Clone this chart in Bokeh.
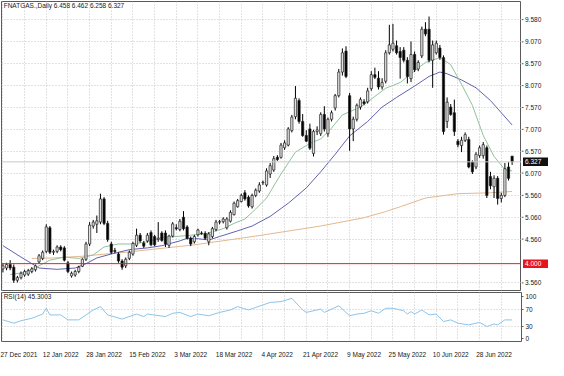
from bokeh.plotting import figure
from bokeh.layouts import column, row
from bokeh.models import ColumnDataSource, FixedTicker, Range1d, Label, Span
from bokeh.embed import file_html
from bokeh.resources import INLINE
from bokeh.core.properties import value

# ---------------- data ----------------
opens = [3.88, 3.90, 3.98, 3.92, 3.62, 3.68, 3.74, 3.76, 3.82, 3.86,
         4.04, 4.12, 4.28, 4.82, 4.26, 4.28, 4.38, 4.36, 4.02, 3.72,
         3.74, 3.82, 3.94, 4.10, 4.45, 4.86, 4.90, 4.95, 5.48, 4.92,
         4.45, 4.30, 4.22, 4.06, 3.95, 4.12, 4.22, 4.42, 4.65, 4.47,
         4.52, 4.71, 4.62, 4.55, 4.70, 4.70, 4.42, 4.63, 4.82, 4.78,
         5.06, 4.84, 4.58, 4.50, 4.66, 4.70, 4.69, 4.50, 4.62, 4.78,
         4.95, 4.96, 4.82, 4.97, 5.12, 5.30, 5.42, 5.62, 5.52, 5.30,
         5.56, 5.66, 5.85, 5.80, 6.05, 6.14, 6.43, 6.43, 6.65, 6.71,
         7.04, 7.36, 7.73, 7.25, 6.93, 7.08, 6.52, 7.02, 6.97, 7.41,
         6.97, 7.30, 7.56, 7.84, 8.38, 8.86, 7.84, 7.08, 7.30, 7.58,
         7.70, 7.70, 8.00, 8.32, 8.24, 8.04, 8.17, 8.82, 8.90, 8.98,
         8.85, 8.88, 8.65, 8.23, 8.78, 8.45, 8.75, 9.36, 9.36, 8.65,
         8.82, 8.93, 8.71, 7.25, 7.58, 7.45, 6.80, 6.70, 6.82, 6.84,
         6.32, 6.21, 6.47, 6.47, 6.65, 5.99, 5.76, 5.95, 5.49, 5.56,
         6.21, 6.458]
highs = [4.00, 4.02, 4.08, 3.98, 3.72, 3.82, 3.86, 3.88, 3.92, 3.98,
         4.22, 4.30, 4.90, 4.86, 4.32, 4.42, 4.42, 4.40, 4.06, 3.82,
         3.86, 3.95, 4.12, 4.50, 4.95, 5.00, 5.10, 5.60, 5.52, 4.98,
         4.50, 4.36, 4.26, 4.10, 4.14, 4.30, 4.50, 4.80, 4.70, 4.52,
         4.70, 4.76, 4.66, 4.95, 4.74, 4.76, 4.66, 4.95, 4.90, 5.02,
         5.20, 4.88, 4.62, 4.66, 4.80, 4.74, 4.74, 4.72, 4.84, 5.00,
         5.00, 5.06, 5.06, 5.22, 5.42, 5.48, 5.60, 5.68, 5.56, 5.60,
         5.72, 5.86, 5.90, 6.18, 6.30, 6.46, 6.48, 6.76, 6.82, 7.12,
         7.40, 8.06, 7.78, 7.42, 7.05, 7.20, 7.06, 7.14, 7.46, 7.60,
         7.34, 7.50, 7.88, 8.45, 8.92, 8.97, 7.90, 7.36, 7.66, 7.80,
         7.76, 8.02, 8.40, 8.48, 8.40, 8.24, 8.88, 9.46, 9.48, 9.10,
         8.95, 8.95, 8.72, 9.08, 8.85, 8.65, 9.42, 9.52, 9.65, 9.10,
         9.10, 9.00, 8.76, 7.80, 7.65, 7.75, 6.85, 6.90, 7.00, 6.90,
         6.36, 6.55, 6.70, 6.78, 6.70, 6.10, 6.02, 6.00, 5.62, 6.30,
         6.32, 6.462]
lows = [3.80, 3.85, 3.85, 3.56, 3.57, 3.64, 3.70, 3.72, 3.78, 3.82,
        4.00, 4.08, 4.24, 4.22, 4.20, 4.24, 4.28, 4.05, 3.78, 3.68,
        3.70, 3.78, 3.92, 4.06, 4.40, 4.80, 4.70, 4.90, 4.88, 4.50,
        4.22, 4.24, 4.02, 3.86, 3.90, 4.08, 4.18, 4.38, 4.48, 4.36,
        4.48, 4.40, 4.40, 4.50, 4.50, 4.38, 4.36, 4.60, 4.76, 4.74,
        4.76, 4.55, 4.40, 4.46, 4.62, 4.66, 4.55, 4.42, 4.58, 4.74,
        4.90, 4.92, 4.78, 4.94, 5.10, 5.28, 5.40, 5.44, 5.28, 5.26,
        5.52, 5.62, 5.80, 5.76, 5.96, 6.10, 6.35, 6.40, 6.60, 6.68,
        7.00, 7.30, 7.20, 6.90, 6.78, 6.60, 6.45, 6.94, 6.92, 7.02,
        6.90, 7.25, 7.50, 7.80, 8.30, 8.24, 6.58, 6.80, 7.25, 7.52,
        7.62, 7.66, 7.95, 8.22, 7.98, 7.98, 8.12, 8.78, 8.85, 8.78,
        8.23, 8.60, 8.12, 8.15, 8.38, 8.40, 8.70, 9.20, 8.60, 8.02,
        8.78, 8.66, 6.95, 7.10, 7.38, 6.92, 6.66, 6.55, 6.78, 6.18,
        6.05, 6.16, 6.42, 6.40, 5.50, 5.70, 5.50, 5.35, 5.40, 5.52,
        5.90, 6.258]
closes = [3.95, 3.98, 3.90, 3.62, 3.68, 3.78, 3.82, 3.84, 3.88, 3.95,
          4.18, 4.26, 4.84, 4.26, 4.28, 4.38, 4.32, 4.08, 3.82, 3.78,
          3.82, 3.92, 4.10, 4.45, 4.88, 4.95, 4.98, 5.48, 4.92, 4.55,
          4.26, 4.28, 4.06, 3.92, 4.10, 4.26, 4.46, 4.65, 4.52, 4.40,
          4.65, 4.43, 4.43, 4.58, 4.53, 4.45, 4.63, 4.91, 4.80, 4.97,
          4.80, 4.58, 4.45, 4.62, 4.77, 4.69, 4.58, 4.68, 4.80, 4.95,
          4.96, 5.02, 5.02, 5.17, 5.38, 5.44, 5.56, 5.48, 5.32, 5.56,
          5.68, 5.80, 5.86, 6.12, 6.24, 6.40, 6.38, 6.71, 6.76, 7.08,
          7.35, 7.78, 7.25, 6.93, 6.80, 6.64, 7.02, 7.06, 7.41, 7.08,
          7.30, 7.45, 7.84, 8.38, 8.82, 8.28, 7.08, 7.30, 7.62, 7.75,
          7.66, 7.95, 8.32, 8.26, 8.04, 8.14, 8.82, 9.00, 9.04, 8.82,
          8.71, 8.65, 8.28, 8.78, 8.43, 8.60, 9.36, 9.25, 8.65, 9.00,
          9.04, 8.71, 7.02, 7.69, 7.41, 7.02, 6.72, 6.82, 6.95, 6.21,
          6.10, 6.50, 6.65, 6.72, 5.56, 5.78, 5.95, 5.49, 5.56, 6.17,
          5.95, 6.327]

# moving averages (bar index, price)
ma_green_idx = [2, 6, 10, 13, 17, 21, 25, 28, 32, 36, 40, 44, 48, 52, 56, 61, 64, 67, 70, 73,
                77, 81, 85, 88, 91, 94, 99, 102, 106, 110, 113, 117, 121, 124, 127, 130, 133,
                136, 139, 141]
ma_green_val = [3.75, 3.80, 3.95, 4.08, 4.15, 4.12, 4.20, 4.38, 4.45, 4.45, 4.50, 4.60, 4.62,
                4.65, 4.68, 4.80, 4.92, 5.02, 5.25, 5.50, 6.05, 6.55, 6.75, 6.85, 7.10, 7.40,
                7.58, 7.76, 8.01, 8.14, 8.34, 8.60, 8.71, 8.55, 8.10, 7.62, 6.93, 6.45, 6.15, 6.12]
ma_blue_idx = [0, 5, 10, 15, 20, 23, 26, 30, 35, 40, 44, 49, 51, 54, 57, 60, 65, 69, 74, 79,
               84, 88, 92, 96, 101, 105, 109, 114, 118, 121, 123, 127, 131, 135, 138, 141]
ma_blue_val = [4.41, 4.15, 3.90, 3.87, 3.90, 4.00, 4.13, 4.22, 4.32, 4.36, 4.41, 4.52, 4.58,
               4.57, 4.54, 4.62, 4.75, 4.86, 5.08, 5.38, 5.73, 6.10, 6.50, 6.92, 7.25, 7.58,
               7.80, 8.06, 8.28, 8.38, 8.34, 8.20, 8.02, 7.73, 7.45, 7.17]
ma_tan_idx = [8, 14, 22, 35, 53, 70, 88, 100, 106, 110, 117, 126, 135, 141]
ma_tan_val = [4.12, 4.13, 4.17, 4.27, 4.43, 4.63, 4.86, 5.05, 5.19, 5.30, 5.50, 5.60, 5.62, 5.65]

# RSI(14)
rsi_idx = [0, 3, 5, 8, 11, 12, 13, 16, 18, 21, 23, 25, 27, 29, 33, 37, 39, 40, 45, 47, 49,
           52, 54, 57, 60, 63, 65, 68, 70, 74, 77, 80, 83, 84, 88, 89, 93, 96, 98, 100, 102,
           104, 106, 108, 111, 112, 113, 114, 116, 118, 120, 122, 124, 126, 129, 132, 134,
           136, 137, 139, 141]
rsi_val = [45.4, 37.5, 43.4, 49.3, 59.2, 73.0, 57.2, 57.2, 45.4, 45.4, 57.2, 69.0, 77.0, 57.2,
           47.3, 59.2, 53.3, 59.2, 53.3, 61.1, 63.1, 53.3, 59.2, 55.2, 63.1, 69.0, 77.0, 69.0,
           75.0, 86.8, 88.8, 96.6, 69.0, 63.1, 71.0, 63.1, 78.9, 55.2, 59.2, 61.1, 67.1, 61.1,
           73.0, 73.0, 67.1, 59.2, 65.1, 59.2, 69.0, 57.2, 59.2, 41.4, 45.4, 37.5, 33.5, 39.4,
           29.6, 35.5, 33.5, 45.4, 45.3]

date_idx = [0, 12, 24, 36, 48, 60, 72, 84, 96, 108, 120, 132]
date_labels = ["27 Dec 2021", "12 Jan 2022", "28 Jan 2022", "15 Feb 2022", "3 Mar 2022",
               "18 Mar 2022", "4 Apr 2022", "21 Apr 2022", "9 May 2022", "25 May 2022",
               "10 Jun 2022", "28 Jun 2022"]
price_ticks = [3.56, 4.56, 5.06, 5.56, 6.07, 6.57, 7.07, 7.57, 8.07, 8.57, 9.07, 9.58]
rsi_ticks = [0, 30, 70, 100]
level_line = 4.000
last_price = 6.327
title_text = "FNATGAS.,Daily  6.458 6.462 6.258 6.327"
rsi_text = "RSI(14) 45.3003"

# ---------------- styling ----------------
FONT = "Liberation Sans"
FS = "6.5px"
GRID = "#c4c4c4"
FRAME = "#5a5a5a"
TXT = "#202020"
X0, X1 = -0.4, 143.6
Y0, Y1 = 3.386, 9.993
MAIN_H = 291
AX_W = 27

n = len(opens)
up = [c >= o for o, c in zip(opens, closes)]
src = ColumnDataSource(dict(
    x=list(range(n)), h=highs, l=lows,
    top=[max(o, c) for o, c in zip(opens, closes)],
    bot=[min(o, c) for o, c in zip(opens, closes)],
    fill=["#e2e2e2" if u else "#000000" for u in up],
))
grid_ticks = list(range(0, 144, 6))

# ---------------- main price panel ----------------
p = figure(width=521, height=MAIN_H, output_backend="svg", toolbar_location=None,
           x_range=Range1d(X0, X1), y_range=Range1d(Y0, Y1),
           min_border_left=1, min_border_right=0, min_border_top=1, min_border_bottom=1)
p.background_fill_color = "white"
p.border_fill_color = "white"
p.outline_line_color = FRAME
p.xaxis.visible = False
p.yaxis.visible = False
p.xgrid.ticker = FixedTicker(ticks=grid_ticks)
p.ygrid.ticker = FixedTicker(ticks=price_ticks)
for g in (p.xgrid, p.ygrid):
    g.grid_line_color = GRID
    g.grid_line_dash = "1 2"

p.add_layout(Span(location=last_price, dimension="width", line_color="#c8c8c8", line_width=1))
p.add_layout(Span(location=level_line, dimension="width", line_color="#ee1c1c", line_width=1))

p.line(ma_tan_idx, ma_tan_val, line_color="#e3b88f", line_width=1)
p.line(ma_blue_idx, ma_blue_val, line_color="#6262b2", line_width=1)
p.line(ma_green_idx, ma_green_val, line_color="#8fc29a", line_width=1)

p.segment(x0="x", y0="h", x1="x", y1="l", source=src, line_color="#000000", line_width=1)
p.vbar(x="x", top="top", bottom="bot", width=0.62, source=src,
       fill_color="fill", line_color="#202020", line_width=0.7)

p.add_layout(Label(x=X0 + 0.6, y=Y1 - 0.01, text=title_text, text_baseline="top",
                   text_font=FONT, text_font_size=FS, text_color=TXT))

# ---------------- price scale column (same y scale as the price panel) ----------------
a = figure(width=AX_W, height=MAIN_H, output_backend="svg", toolbar_location=None,
           x_range=Range1d(0, AX_W), y_range=p.y_range,
           x_axis_location=None, y_axis_location=None,
           min_border_left=0, min_border_right=0, min_border_top=1, min_border_bottom=1)
a.background_fill_color = "white"
a.border_fill_color = "white"
a.outline_line_color = None
a.grid.grid_line_color = None
tick_txt = [f"{t:.3f}" for t in price_ticks]
a.segment(x0=[0] * len(price_ticks), x1=[2] * len(price_ticks), y0=price_ticks, y1=price_ticks,
          line_color=FRAME, line_width=1)
a.text(x=[3.5] * len(price_ticks), y=price_ticks, text=tick_txt, text_baseline="middle",
       text_font=value(FONT), text_font_size=FS, text_color=TXT)
box_h = 8.5 * (Y1 - Y0) / (MAIN_H - 2)
box_y = [level_line, last_price]
box_txt = [f"{level_line:.3f}", f"{last_price:.3f}"]
a.quad(left=[1.5, 1.5], right=[AX_W, AX_W],
       bottom=[v - box_h / 2 for v in box_y], top=[v + box_h / 2 for v in box_y],
       fill_color=["#e8141c", "#111111"], line_color=None)
a.text(x=[3.5, 3.5], y=box_y, text=box_txt, text_baseline="middle",
       text_font=value(FONT), text_font_size=FS, text_color="white")

# ---------------- RSI panel ----------------
r = figure(width=521 + AX_W, height=69, output_backend="svg", toolbar_location=None,
           x_range=p.x_range, y_range=Range1d(-6, 110.5),
           y_axis_location="right", min_border_left=1, min_border_right=AX_W,
           min_border_top=1, min_border_bottom=1)
r.background_fill_color = "white"
r.border_fill_color = "white"
r.outline_line_color = FRAME
r.xgrid.ticker = FixedTicker(ticks=grid_ticks)
r.ygrid.ticker = FixedTicker(ticks=[30, 70])
for g in (r.xgrid, r.ygrid):
    g.grid_line_color = GRID
    g.grid_line_dash = "1 2"
r.yaxis.ticker = FixedTicker(ticks=rsi_ticks)
r.yaxis.axis_line_color = None
r.yaxis.major_tick_line_color = FRAME
r.yaxis.major_tick_out = 2
r.yaxis.major_tick_in = 0
r.yaxis.minor_tick_line_color = None
r.yaxis.major_label_standoff = 2
r.yaxis.major_label_text_font = FONT
r.yaxis.major_label_text_font_size = FS
r.yaxis.major_label_text_color = TXT

label_pos = [d + 4 for d in date_idx]
r.xaxis.ticker = FixedTicker(ticks=label_pos)
r.xaxis.major_label_overrides = {lp: t for lp, t in zip(label_pos, date_labels)}
r.xaxis.axis_line_color = None
r.xaxis.major_tick_line_color = None
r.xaxis.minor_tick_line_color = None
r.xaxis.major_label_standoff = 3
r.xaxis.major_label_text_font = FONT
r.xaxis.major_label_text_font_size = FS
r.xaxis.major_label_text_color = TXT

r.line(rsi_idx, rsi_val, line_color="#8cc4ea", line_width=1)
r.add_layout(Label(x=X0 + 0.6, y=109, text=rsi_text, text_baseline="top",
                   text_font=FONT, text_font_size=FS, text_color=TXT))

layout = column(row(p, a, spacing=0), r, spacing=0)
open("out.html", "w").write(file_html(layout, INLINE))
